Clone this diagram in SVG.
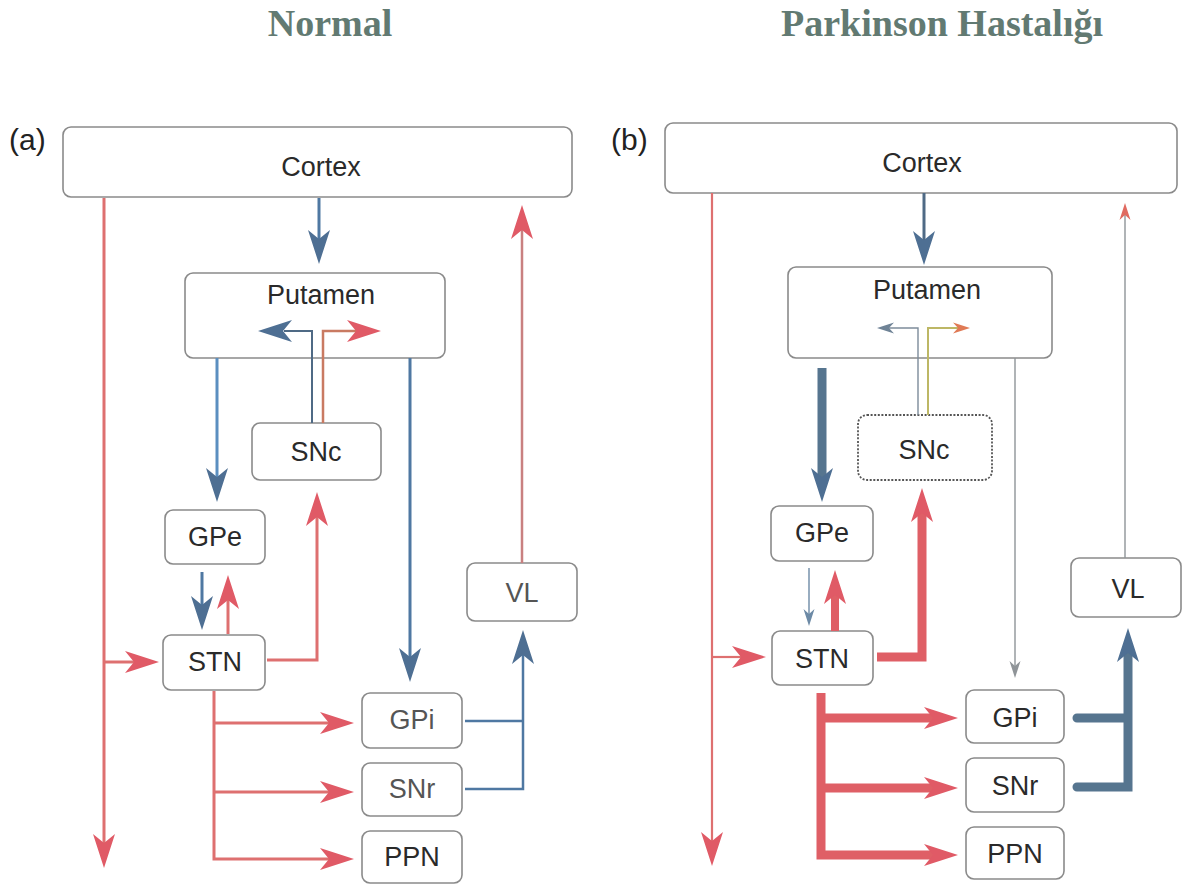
<svg xmlns="http://www.w3.org/2000/svg" xmlns:xlink="http://www.w3.org/1999/xlink" width="1184" height="890" viewBox="0 0 1184 890">
<style>
.title{font-family:"Liberation Serif","Times New Roman",serif;font-weight:bold;font-size:38px;fill:#627a72;text-anchor:middle}
.lab{font-family:"Liberation Sans",Arial,sans-serif;font-size:30px;fill:#222}
.box{fill:#fff;stroke:#8a8a8a;stroke-width:1.6}
.wavy{fill:#fff;stroke:#555;stroke-width:1.8;stroke-dasharray:2 1.6}
.t{font-family:"Liberation Sans",Arial,sans-serif;font-size:27px;fill:#2a2a2a;text-anchor:middle}
.r{fill:none;stroke:#de7070;stroke-width:3}
.b{fill:none;stroke:#4f78a2;stroke-width:3}
.rk{fill:none;stroke:#df5f66;stroke-width:9}
.bk{fill:none;stroke:#56758f;stroke-width:9;stroke-linecap:round}
.thin{fill:none;stroke:#8f9498;stroke-width:1.4}
.ol{fill:none;stroke:#bdb765;stroke-width:2}
.rh{fill:#e05a66}
.bh{fill:#4e6f93}
</style>
<defs>
<path id="ah" d="M0,0 L-34,-11 L-25,0 L-34,11 Z"/>
<path id="as" d="M0,0 L-17,-5.5 L-12,0 L-17,5.5 Z"/>
</defs>

<text class="title" x="330" y="36">Normal</text>
<text class="title" x="942" y="36">Parkinson Hastalığı</text>
<text class="lab" x="9" y="150">(a)</text>
<text class="lab" x="611" y="150">(b)</text>

<g id="a-cortex"><rect class="box" x="63" y="127" width="509" height="70" rx="8"/><text class="t" x="321" y="176">Cortex</text></g>
<g id="a-putamen"><rect class="box" x="185" y="273" width="260" height="85" rx="8"/><text class="t" x="321" y="304">Putamen</text></g>
<g id="a-snc"><rect class="box" x="252" y="423" width="129" height="57" rx="8"/><text class="t" x="316" y="461">SNc</text></g>
<g id="a-gpe"><rect class="box" x="165" y="510" width="100" height="54" rx="8"/><text class="t" x="215" y="546">GPe</text></g>
<g id="a-stn"><rect class="box" x="163" y="635" width="102" height="55" rx="8"/><text class="t" x="215" y="671">STN</text></g>
<g id="a-gpi"><rect class="box" x="362" y="693" width="100" height="55" rx="8"/><text class="t" x="412" y="729" style="fill:#555">GPi</text></g>
<g id="a-snr"><rect class="box" x="362" y="763" width="100" height="53" rx="8"/><text class="t" x="412" y="798" style="fill:#555">SNr</text></g>
<g id="a-ppn"><rect class="box" x="362" y="831" width="100" height="52" rx="8"/><text class="t" x="412" y="866">PPN</text></g>
<g id="a-vl"><rect class="box" x="467" y="563" width="110" height="58" rx="8"/><text class="t" x="522" y="602" style="fill:#555">VL</text></g>

<g id="b-cortex"><rect class="box" x="665" y="123" width="512" height="70" rx="8"/><text class="t" x="922" y="172">Cortex</text></g>
<g id="b-putamen"><rect class="box" x="788" y="267" width="264" height="91" rx="8"/><text class="t" x="927" y="299">Putamen</text></g>
<g id="b-snc"><rect class="wavy" x="858" y="415" width="134" height="65" rx="9"/><text class="t" x="924" y="459">SNc</text></g>
<g id="b-gpe"><rect class="box" x="771" y="506" width="102" height="55" rx="8"/><text class="t" x="822" y="542">GPe</text></g>
<g id="b-stn"><rect class="box" x="772" y="631" width="101" height="54" rx="8"/><text class="t" x="822" y="668">STN</text></g>
<g id="b-gpi"><rect class="box" x="966" y="690" width="98" height="53" rx="8"/><text class="t" x="1015" y="727">GPi</text></g>
<g id="b-snr"><rect class="box" x="966" y="758" width="98" height="54" rx="8"/><text class="t" x="1015" y="795">SNr</text></g>
<g id="b-ppn"><rect class="box" x="966" y="827" width="98" height="52" rx="8"/><text class="t" x="1015" y="863">PPN</text></g>
<g id="b-vl"><rect class="box" x="1071" y="558" width="110" height="59" rx="8"/><text class="t" x="1128" y="598">VL</text></g>

<g id="connectors">
<!-- left panel -->
<path class="b" d="M319,198 V240"/>
<use href="#ah" class="bh" transform="translate(319,264) rotate(90)"/>
<path class="b" d="M312,423 V331 H284" style="stroke:#4f6a85;stroke-width:2"/>
<use href="#ah" class="bh" transform="translate(258,331) rotate(180)"/>
<path class="r" d="M323,423 V331 H356" style="stroke:#c97a62;stroke-width:2.5"/>
<use href="#ah" class="rh" transform="translate(381,331)"/>
<path class="b" d="M217,358 V478" style="stroke:#5b8fc0"/>
<use href="#ah" class="bh" transform="translate(217,502) rotate(90)"/>
<path class="b" d="M202,572 V606"/>
<use href="#ah" class="bh" transform="translate(202,630) rotate(90)"/>
<path class="r" d="M228,634 V600"/>
<use href="#ah" class="rh" transform="translate(228,575) rotate(-90)"/>
<path class="r" d="M104,198 V844"/>
<use href="#ah" class="rh" transform="translate(104,868) rotate(90)"/>
<path class="r" d="M104,662 H135"/>
<use href="#ah" class="rh" transform="translate(159,662)"/>
<path class="r" d="M267,660 H317 V516"/>
<use href="#ah" class="rh" transform="translate(317,492) rotate(-90)"/>
<path class="r" d="M214,691 V859 H330 M214,723 H330 M214,792 H330"/>
<use href="#ah" class="rh" transform="translate(354,723)"/>
<use href="#ah" class="rh" transform="translate(354,792)"/>
<use href="#ah" class="rh" transform="translate(354,859)"/>
<path class="b" d="M410,358 V658"/>
<use href="#ah" class="bh" transform="translate(410,682) rotate(90)"/>
<path class="r" d="M522,563 V229" style="stroke:#c98080;stroke-width:2.5"/>
<use href="#ah" class="rh" transform="translate(522,205) rotate(-90)"/>
<path class="b" d="M465,721 H523 M465,789 H523 V654" style="stroke-width:2.5"/>
<use href="#ah" class="bh" transform="translate(523,630) rotate(-90)"/>

<!-- right panel -->
<path class="b" d="M924,193 V241" style="stroke:#4f6a85"/>
<use href="#ah" class="bh" transform="translate(924,265) rotate(90)"/>
<path class="thin" d="M918,415 V328 H889" style="stroke:#7d8c9b"/>
<use href="#as" fill="#6f8396" transform="translate(877,328) rotate(180)"/>
<path class="ol" d="M928,415 V328 H958"/>
<use href="#as" fill="#e07a55" transform="translate(970,328)"/>
<path class="bk" d="M822,368 V478" style="stroke-linecap:butt"/>
<use href="#ah" class="bh" transform="translate(822,502) rotate(90)"/>
<path class="thin" d="M809,568 V614" style="stroke:#6d8aa6"/>
<use href="#as" fill="#6d8aa6" transform="translate(809,626) rotate(90)"/>
<path class="rk" d="M835,631 V594" style="stroke-width:8"/>
<use href="#ah" class="rh" transform="translate(835,570) rotate(-90)"/>
<path class="r" d="M712,193 V842" style="stroke-width:2.2"/>
<use href="#ah" class="rh" transform="translate(712,866) rotate(90)"/>
<path class="r" d="M712,657 H742" style="stroke-width:2.2"/>
<use href="#ah" class="rh" transform="translate(766,657)"/>
<path class="rk" d="M877,657 H922 V512" style="stroke-linejoin:miter"/>
<use href="#ah" class="rh" transform="translate(922,488) rotate(-90)"/>
<path class="rk" d="M821,693 V855 H934 M821,718 H934 M821,788 H934"/>
<use href="#ah" class="rh" transform="translate(958,718)"/>
<use href="#ah" class="rh" transform="translate(958,788)"/>
<use href="#ah" class="rh" transform="translate(958,855)"/>
<path class="thin" d="M1015,358 V666"/>
<use href="#as" fill="#8f9498" transform="translate(1015,678) rotate(90)"/>
<path class="thin" d="M1125,558 V215"/>
<use href="#as" fill="#e06a60" transform="translate(1125,203) rotate(-90)"/>
<path class="bk" d="M1077,718 H1128 M1077,787 H1128 V652" style="stroke-linejoin:miter"/>
<use href="#ah" class="bh" transform="translate(1128,628) rotate(-90)"/>
</g>
</svg>
